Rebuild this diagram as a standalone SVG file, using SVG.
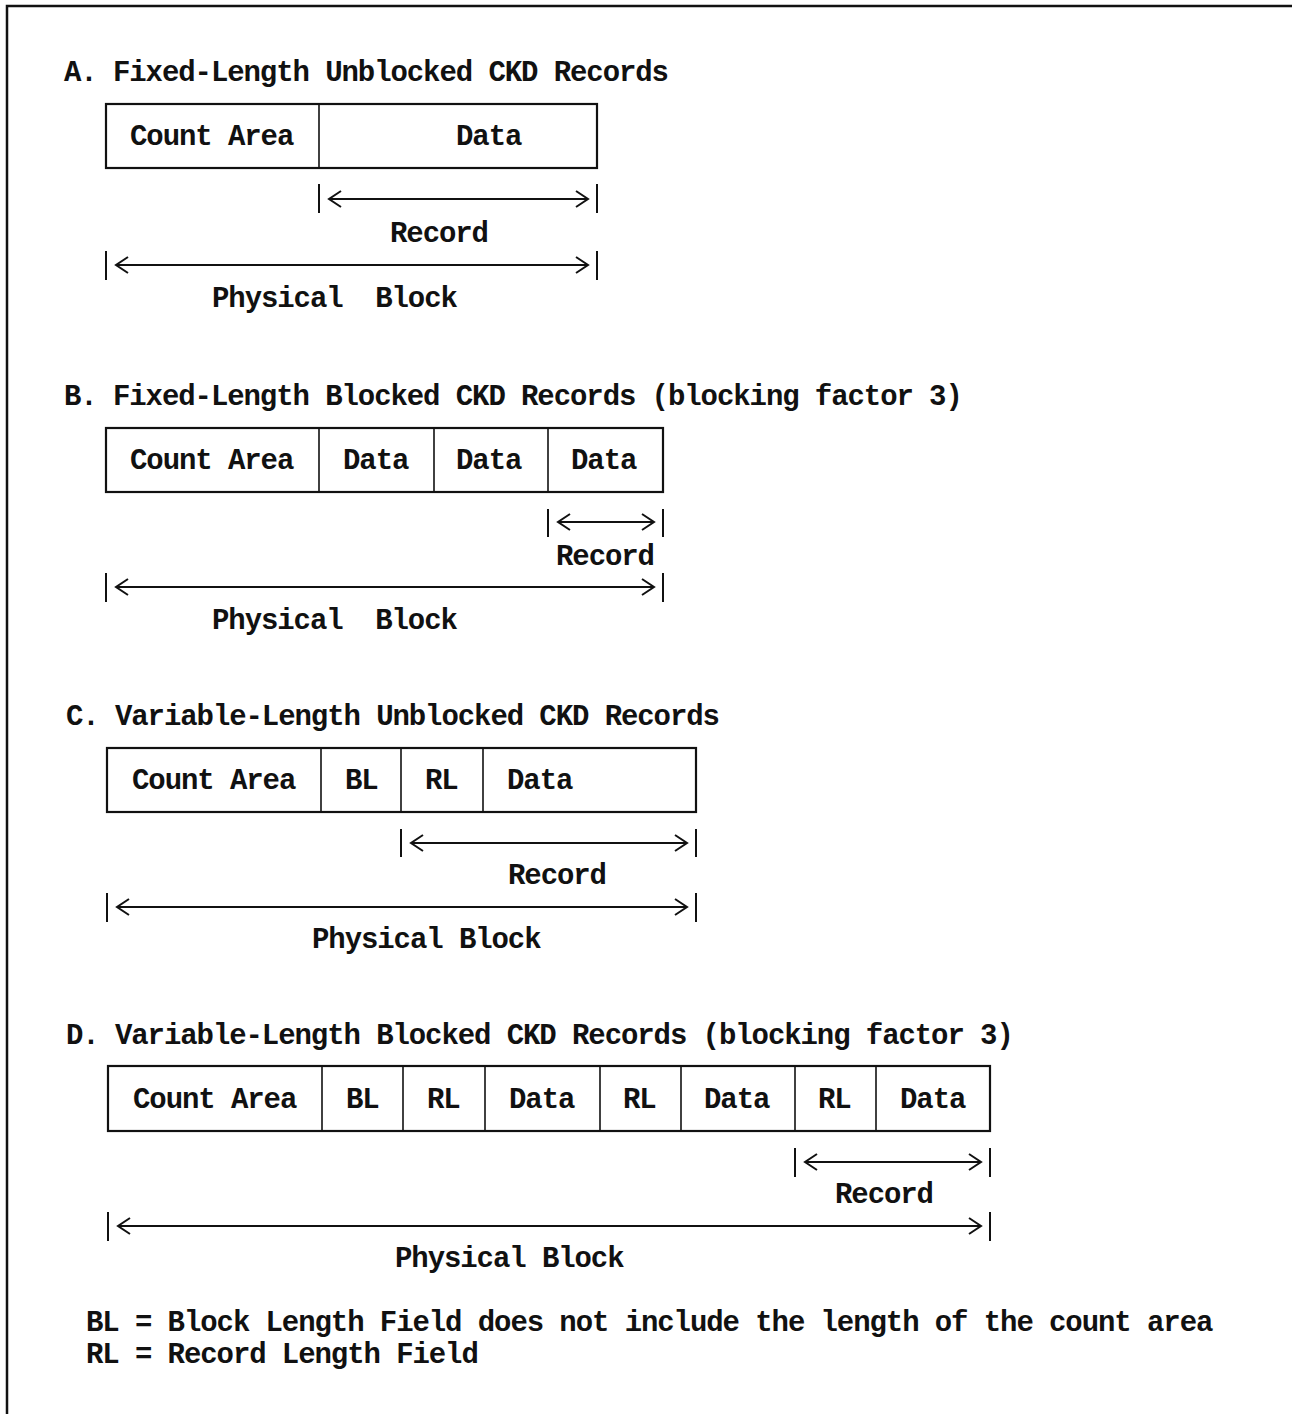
<svg xmlns="http://www.w3.org/2000/svg" width="1292" height="1414" viewBox="0 0 1292 1414">
<style>
text{font-family:"Liberation Mono","Courier New",monospace;font-size:29px;font-weight:bold;letter-spacing:-1.08px;fill:#111;white-space:pre}
.frame{stroke:#111;stroke-width:2.5;fill:none}
.box{fill:#fff;stroke:#111;stroke-width:2.2}
.div{stroke:#111;stroke-width:1.6}
.dim line,.dim path{stroke:#111;stroke-width:2;fill:none}
</style>
<rect width="1292" height="1414" fill="#fff"/>
<path class="frame" d="M7 1414 V6 H1292"/>

<!-- Section A -->
<text x="64" y="81">A. Fixed-Length Unblocked CKD Records</text>
<g id="boxA">
<rect class="box" x="106" y="104" width="491" height="64"/>
<line class="div" x1="319" y1="104" x2="319" y2="168"/>
<text x="130" y="145">Count Area</text>
<text x="456" y="145">Data</text>
</g>
<text x="390" y="242">Record</text>
<text x="212" y="307" xml:space="preserve">Physical  Block</text>

<!-- Section B -->
<text x="64" y="405">B. Fixed-Length Blocked CKD Records (blocking factor 3)</text>
<g id="boxB">
<rect class="box" x="106" y="428" width="557" height="64"/>
<line class="div" x1="319" y1="428" x2="319" y2="492"/>
<line class="div" x1="434" y1="428" x2="434" y2="492"/>
<line class="div" x1="548" y1="428" x2="548" y2="492"/>
<text x="130" y="469">Count Area</text>
<text x="343" y="469">Data</text>
<text x="456" y="469">Data</text>
<text x="571" y="469">Data</text>
</g>
<text x="556" y="565">Record</text>
<text x="212" y="629" xml:space="preserve">Physical  Block</text>

<!-- Section C -->
<text x="66" y="725">C. Variable-Length Unblocked CKD Records</text>
<g id="boxC">
<rect class="box" x="107" y="748" width="589" height="64"/>
<line class="div" x1="321" y1="748" x2="321" y2="812"/>
<line class="div" x1="401" y1="748" x2="401" y2="812"/>
<line class="div" x1="483" y1="748" x2="483" y2="812"/>
<text x="132" y="789">Count Area</text>
<text x="345" y="789">BL</text>
<text x="425" y="789">RL</text>
<text x="507" y="789">Data</text>
</g>
<text x="508" y="884">Record</text>
<text x="312" y="948">Physical Block</text>

<!-- Section D -->
<text x="66" y="1044">D. Variable-Length Blocked CKD Records (blocking factor 3)</text>
<g id="boxD">
<rect class="box" x="108" y="1066" width="882" height="65"/>
<line class="div" x1="322" y1="1066" x2="322" y2="1131"/>
<line class="div" x1="403" y1="1066" x2="403" y2="1131"/>
<line class="div" x1="485" y1="1066" x2="485" y2="1131"/>
<line class="div" x1="600" y1="1066" x2="600" y2="1131"/>
<line class="div" x1="681" y1="1066" x2="681" y2="1131"/>
<line class="div" x1="795" y1="1066" x2="795" y2="1131"/>
<line class="div" x1="876" y1="1066" x2="876" y2="1131"/>
<text x="133" y="1108">Count Area</text>
<text x="346" y="1108">BL</text>
<text x="427" y="1108">RL</text>
<text x="509" y="1108">Data</text>
<text x="623" y="1108">RL</text>
<text x="704" y="1108">Data</text>
<text x="818" y="1108">RL</text>
<text x="900" y="1108">Data</text>
</g>
<text x="835" y="1203">Record</text>
<text x="395" y="1267">Physical Block</text>

<!-- Legend -->
<text x="86" y="1331">BL = Block Length Field does not include the length of the count area</text>
<text x="86" y="1363">RL = Record Length Field</text>

<!-- Connectors (dimension arrows) -->
<g id="connectors" class="dim">
<!-- A record -->
<line x1="319" y1="184" x2="319" y2="213"/><line x1="597" y1="184" x2="597" y2="213"/>
<line x1="329" y1="199" x2="588" y2="199"/>
<path d="M341 191 L329 199 L341 207"/><path d="M576 191 L588 199 L576 207"/>
<!-- A block -->
<line x1="106" y1="251" x2="106" y2="280"/><line x1="597" y1="251" x2="597" y2="280"/>
<line x1="116" y1="265" x2="588" y2="265"/>
<path d="M128 257 L116 265 L128 273"/><path d="M576 257 L588 265 L576 273"/>
<!-- B record -->
<line x1="548" y1="509" x2="548" y2="537"/><line x1="663" y1="509" x2="663" y2="537"/>
<line x1="558" y1="522" x2="654" y2="522"/>
<path d="M570 514 L558 522 L570 530"/><path d="M642 514 L654 522 L642 530"/>
<!-- B block -->
<line x1="106" y1="573" x2="106" y2="602"/><line x1="663" y1="573" x2="663" y2="602"/>
<line x1="116" y1="587" x2="654" y2="587"/>
<path d="M128 579 L116 587 L128 595"/><path d="M642 579 L654 587 L642 595"/>
<!-- C record -->
<line x1="401" y1="829" x2="401" y2="857"/><line x1="696" y1="829" x2="696" y2="857"/>
<line x1="411" y1="843" x2="687" y2="843"/>
<path d="M423 835 L411 843 L423 851"/><path d="M675 835 L687 843 L675 851"/>
<!-- C block -->
<line x1="107" y1="893" x2="107" y2="922"/><line x1="696" y1="893" x2="696" y2="922"/>
<line x1="117" y1="907" x2="687" y2="907"/>
<path d="M129 899 L117 907 L129 915"/><path d="M675 899 L687 907 L675 915"/>
<!-- D record -->
<line x1="795" y1="1148" x2="795" y2="1177"/><line x1="990" y1="1148" x2="990" y2="1177"/>
<line x1="805" y1="1162" x2="981" y2="1162"/>
<path d="M817 1154 L805 1162 L817 1170"/><path d="M969 1154 L981 1162 L969 1170"/>
<!-- D block -->
<line x1="108" y1="1212" x2="108" y2="1241"/><line x1="990" y1="1212" x2="990" y2="1241"/>
<line x1="118" y1="1226" x2="981" y2="1226"/>
<path d="M130 1218 L118 1226 L130 1234"/><path d="M969 1218 L981 1226 L969 1234"/>
</g>
</svg>
